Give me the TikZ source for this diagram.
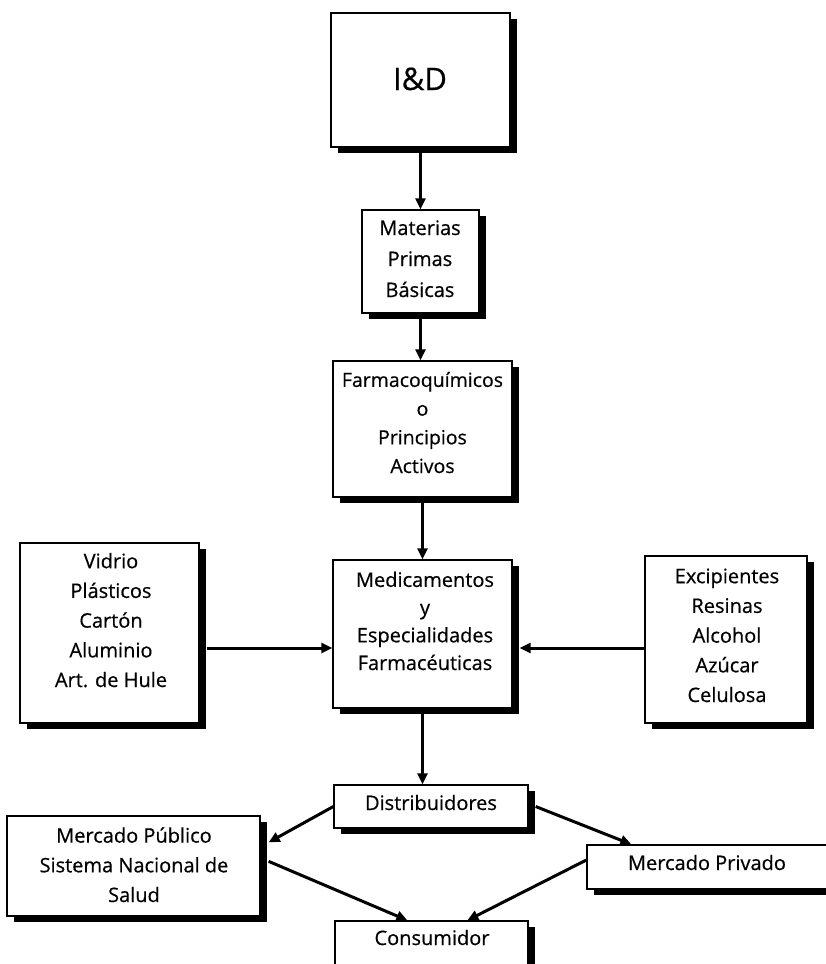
\documentclass[tikz,border=0pt]{standalone}
\usepackage{fontspec}
\setmainfont{Open Sans}[FakeBold=0.5]
\usetikzlibrary{arrows.meta,shadows,fit,calc}
\begin{document}
\begin{tikzpicture}[x=1pt,y=-1pt,
  box/.style={draw, line width=1.3pt, fill=white, inner sep=0pt,
    drop shadow={shadow xshift=6.5pt, shadow yshift=-6pt, fill=black, opacity=1}},
  lbl/.style={align=center, anchor=base, inner sep=0pt,
    font=\fontsize{20}{29.7}\selectfont},
  arr/.style={line width=3pt, -{Triangle[length=11pt,width=10pt]}}]
\useasboundingbox (0,0) rectangle (825,964);
% boxes
\node[box, fit={(331,13) (510,147)}] (id) {};
\node[box, fit={(362,210) (479,313)}] (mat) {};
\node[box, fit={(333,361) (512,497)}] (farm) {};
\node[box, fit={(333,560) (512,708)}] (med) {};
\node[box, fit={(20,543) (199,723)}] (vid) {};
\node[box, fit={(645,556) (807,723)}] (exc) {};
\node[box, fit={(334,785) (528,828)}] (dist) {};
\node[box, fit={(7,816) (260,916)}] (mpub) {};
\node[box, fit={(587,845) (840,889)}] (mpriv) {};
\node[box, fit={(335,921) (528,990)}] (cons) {};
% labels (base anchor = baseline of last line)
\node[lbl, font=\fontsize{31}{36}\selectfont] (idT) at (420,90) {I\&D};
\node[lbl, font=\fontsize{20}{31}\selectfont] (matT) at (420,297) {Materias\\Primas\\Básicas};
\node[lbl, font=\fontsize{19.5}{28.7}\selectfont] (farmT) at (422.5,473) {Farmacoquímicos\\o\\Principios\\Activos};
\node[lbl, font=\fontsize{20}{27.7}\selectfont] (medT) at (425,670) {Medicamentos\\y\\Especialidades\\Farmacéuticas};
\node[lbl] (vidT) at (111,687) {Vidrio\\Plásticos\\Cartón\\Aluminio\\Art. de Hule};
\node[lbl] (excT) at (727,702) {Excipientes\\Resinas\\Alcohol\\Azúcar\\Celulosa};
\node[lbl] (distT) at (431,810) {Distribuidores};
\node[lbl] (mpubT) at (134,902) {Mercado Público\\Sistema Nacional de\\Salud};
\node[lbl] (mprivT) at (707,870) {Mercado Privado};
\node[lbl] (consT) at (432,945) {Consumidor};
% connectors
\coordinate (hy) at (0,648);
\draw[arr] (id.south) -- (mat.north);
\draw[arr] (mat.south) -- (mat.south |- farm.north);
\draw[arr] (farm.south) -- (med.north);
\draw[arr] (med.south) -- (med.south |- dist.north);
\draw[arr] ($(vid.east |- hy)+(7,0)$) -- (med.west |- hy);
\draw[arr] (exc.west |- hy) -- ($(med.east |- hy)+(7,0)$);
\draw[arr] (dist.west) -- ($(mpub.north east)+(8,27)$);
\draw[arr] ($(dist.east)+(7,0)$) -- ($(mpriv.north west)+(45,0)$);
\draw[arr] ($(mpub.north east)+(8,46)$) -- ($(cons.north west)+(73,0)$);
\draw[arr] ($(mpriv.west)+(0,-7)$) -- ($(cons.north west)+(133,0)$);
\end{tikzpicture}
\end{document}
